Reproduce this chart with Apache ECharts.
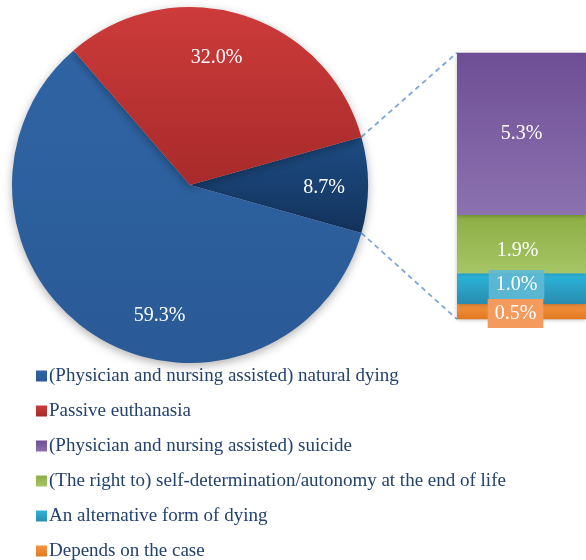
<!DOCTYPE html>
<html><head><meta charset="utf-8">
<script src="https://cdn.jsdelivr.net/npm/echarts@6/dist/echarts.min.js"></script>
<style>html,body{margin:0;padding:0;background:#fff}#c{width:586px;height:560px}</style>
</head><body><div id="c"></div>
<script>
// ---- data ----
const pieNames = ['Other', '(Physician and nursing assisted) natural dying', 'Passive euthanasia'];
const pieValues = [8.7, 59.3, 32.0];
const barNames = ['Depends on the case', 'An alternative form of dying',
  '(The right to) self-determination/autonomy at the end of life', '(Physician and nursing assisted) suicide'];
const barValues = [0.5, 1.0, 1.9, 5.3];
const legendNames = ['(Physician and nursing assisted) natural dying', 'Passive euthanasia',
  '(Physician and nursing assisted) suicide', '(The right to) self-determination/autonomy at the end of life',
  'An alternative form of dying', 'Depends on the case'];

// ---- styles ----
const serif = '"Liberation Serif", "Times New Roman", serif';
function grad(top, bottom) {
  return new echarts.graphic.LinearGradient(0, 0, 0, 1, [{offset: 0, color: top}, {offset: 1, color: bottom}]);
}
const pieColors = [grad('#1d4c84', '#13335c'), grad('#2f64a4', '#2a5a96'), grad('#cd3b3b', '#a82a2a')];
const pieLabelOffsets = [[42, 3], [19, 53], [0, -39]];
const barColors = [grad('#f5933e', '#e07a22'), grad('#2bb6dc', '#2a8cae'), grad('#8cae44', '#a6c566'), grad('#6e4e95', '#8c72b0')];
const barLabelBg = [ '#f39a5c', 'rgba(95,185,212,0.9)', null, null];
const barLabelOffsets = [[-6, 2], [-5, -4], [-4, 7], [0, 0]];

const PIE_CX = 190, PIE_CY = 185, PIE_R = 178;
const GRID_LEFT = 457, GRID_TOP = 52.7, GRID_H = 266.5, GRID_W = 136;

const pieTotal = pieValues.reduce((a, b) => a + b, 0);
const otherVal = pieValues[0];
const startAngle = otherVal / pieTotal * 360 / 2;
const barTotal = barValues.reduce((a, b) => a + b, 0);

const chart = echarts.init(document.getElementById('c'));
const labelText = {color: '#fff', fontFamily: serif, fontSize: 20};

const series = [{
  type: 'pie',
  center: [PIE_CX, PIE_CY],
  radius: PIE_R,
  startAngle: startAngle,
  clockwise: true,
  silent: true,
  label: Object.assign({show: true, position: 'inside', formatter: p => p.value.toFixed(1) + '%'}, labelText),
  labelLine: {show: false},
  itemStyle: {shadowBlur: 10, shadowColor: 'rgba(0,0,0,0.3)', shadowOffsetY: 3},
  data: pieNames.map((n, i) => ({
    name: n, value: pieValues[i],
    itemStyle: {color: pieColors[i]},
    label: {offset: pieLabelOffsets[i]}
  }))
}];
barNames.forEach((n, i) => {
  series.push({
    type: 'bar', name: n, stack: 'all', barWidth: '100%', silent: true,
    data: [barValues[i]],
    itemStyle: {color: barColors[i], shadowBlur: 4, shadowColor: 'rgba(0,0,0,0.25)', shadowOffsetY: 1},
    label: Object.assign({
      show: true, position: 'inside', formatter: p => p.value.toFixed(1) + '%',
      offset: barLabelOffsets[i],
      backgroundColor: barLabelBg[i] || 'transparent', padding: barLabelBg[i] ? [5, 7, 4, 7] : 0
    }, labelText)
  });
});

chart.setOption({
  animation: false,
  backgroundColor: '#fff',
  grid: {left: GRID_LEFT, top: GRID_TOP, width: GRID_W, height: GRID_H},
  xAxis: {type: 'category', data: ['Other'], show: false},
  yAxis: {type: 'value', min: 0, max: barTotal, show: false},
  legend: {
    orient: 'vertical', left: 31, top: 361, height: 300,
    itemWidth: 11, itemHeight: 11, itemGap: 15,
    icon: 'rect', selectedMode: false,
    textStyle: {fontFamily: serif, fontSize: 19, color: '#23426f', lineHeight: 20, padding: [0, 0, 0, -3]},
    data: legendNames
  },
  series: series
});

// connector dashed lines: pie boundary of "Other" slice -> bar corners
const a = startAngle * Math.PI / 180;
const pTop = [PIE_CX + PIE_R * Math.cos(a), PIE_CY - PIE_R * Math.sin(a)];
const pBot = [PIE_CX + PIE_R * Math.cos(a), PIE_CY + PIE_R * Math.sin(a)];
const yTop = chart.convertToPixel({yAxisIndex: 0}, barTotal);
const yBot = chart.convertToPixel({yAxisIndex: 0}, 0);
const lineStyle = {stroke: '#7ea6d8', lineWidth: 1.8, lineDash: [5, 4]};
chart.setOption({
  graphic: [
    {type: 'line', shape: {x1: pTop[0], y1: pTop[1], x2: GRID_LEFT, y2: yTop}, style: lineStyle, z: 0, silent: true},
    {type: 'line', shape: {x1: pBot[0], y1: pBot[1], x2: GRID_LEFT, y2: yBot}, style: lineStyle, z: 0, silent: true}
  ]
});
</script>
</body></html>
